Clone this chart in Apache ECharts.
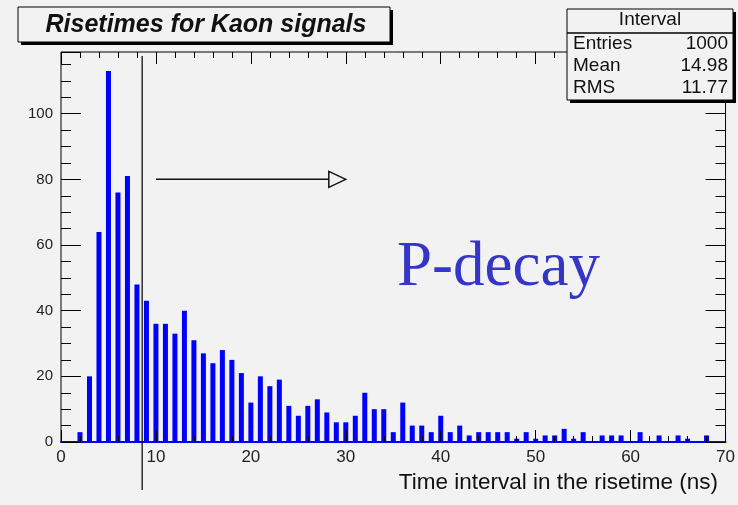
<!DOCTYPE html>
<html>
<head>
<meta charset="utf-8">
<script src="https://cdn.jsdelivr.net/npm/echarts@6/dist/echarts.min.js"></script>
<style>
html, body { margin: 0; padding: 0; background: #f2f2f2; }
#main { width: 738px; height: 505px; }
</style>
</head>
<body>
<div id="main"></div>
<script>
// histogram bins (centre of each 1 ns bin) and counts
var bins = [0, 1, 2, 3, 4, 5, 6, 7, 8, 9, 10, 11, 12, 13, 14, 15, 16, 17, 18, 19,
	20, 21, 22, 23, 24, 25, 26, 27, 28, 29, 30, 31, 32, 33, 34, 35, 36, 37, 38, 39,
	40, 41, 42, 43, 44, 45, 46, 47, 48, 49, 50, 51, 52, 53, 54, 55, 56, 57, 58, 59,
	60, 61, 62, 63, 64, 65, 66, 67, 68, 69];
var counts = [0, 0, 3, 20, 64, 113, 76, 81, 48, 43, 36, 36, 33, 40, 31, 27, 24, 28, 25, 21,
	12, 20, 17, 19, 11, 8, 11, 13, 9, 6, 6, 8, 15, 10, 10, 3, 12, 5, 5, 3,
	8, 3, 5, 2, 3, 3, 3, 3, 1, 3, 1, 2, 2, 4, 1, 3, 0, 2, 2, 2,
	0, 3, 0, 2, 0, 2, 1, 0, 2, 0];

var xRange = [0, 70];
var yRange = [0, 118.8];

// annotations
var cutX = 8.55;
var cutYTop = 117.6;
var arrowFrom = 10, arrowTo = 30, arrowY = 80;

var titleText = 'Risetimes for Kaon signals';
var xTitle = 'Time interval in the risetime (ns)';
var statsTitle = 'Interval';
var statsNames = ['Entries', 'Mean', 'RMS'];
var statsValues = ['1000', '14.98', '11.77'];

var FONT = '"Liberation Sans", Arial, sans-serif';
var BG = '#f2f2f2';

var chart = echarts.init(document.getElementById('main'));

function xAx(pos, interval, len, labels) {
	return {
		type: 'value', position: pos, min: xRange[0], max: xRange[1], interval: interval, z: 3,
		axisLine: { show: labels, onZero: false, lineStyle: { color: '#0000ff', width: 2 } },
		axisTick: { show: true, inside: true, length: len, lineStyle: { color: '#000', width: 1 } },
		axisLabel: { show: labels, fontSize: 17, color: '#222', margin: 7, fontFamily: FONT },
		splitLine: { show: false }
	};
}

function yAx(pos, interval, len, labels) {
	return {
		type: 'value', position: pos, min: yRange[0], max: yRange[1], interval: interval, z: 3,
		axisLine: { show: false, onZero: false },
		axisTick: { show: true, inside: true, length: len, lineStyle: { color: '#000', width: 1 } },
		axisLabel: {
			show: labels, fontSize: 15, color: '#222', margin: 8, fontFamily: FONT,
			formatter: function(v) { return v % 20 === 0 ? String(v) : ''; }
		},
		splitLine: { show: false }
	};
}

var data = bins.map(function(b, i) { return [b, counts[i]]; });

// stats box (drawn above the frame and its ticks)
var sb = { x: 567, y: 9, w: 166, h: 91 };
var statsEls = [
	{ type: 'rect', z: 20, shape: { x: sb.x + 3, y: sb.y + 3, width: sb.w, height: sb.h }, style: { fill: '#000' } },
	{ type: 'rect', z: 21, shape: { x: sb.x, y: sb.y, width: sb.w, height: sb.h }, style: { fill: BG, stroke: '#000', lineWidth: 1 } },
	{ type: 'line', z: 22, shape: { x1: sb.x, y1: 33, x2: sb.x + sb.w, y2: 33 }, style: { stroke: '#000', lineWidth: 1.5 } },
	{ type: 'text', z: 22, x: sb.x + sb.w / 2, y: 20, style: { text: statsTitle, font: '19px ' + FONT, fill: '#111', align: 'center', verticalAlign: 'middle' } }
];
var rowY = [44, 66, 88];
statsNames.forEach(function(n, i) {
	statsEls.push({ type: 'text', z: 22, x: 573, y: rowY[i], style: { text: n, font: '19px ' + FONT, fill: '#111', verticalAlign: 'middle' } });
	statsEls.push({ type: 'text', z: 22, x: 728, y: rowY[i], style: { text: statsValues[i], font: '19px ' + FONT, fill: '#111', align: 'right', verticalAlign: 'middle' } });
});

var option = {
	backgroundColor: BG,
	animation: false,
	grid: { left: 61, right: 6, top: 52, bottom: 63, show: true, borderColor: '#000', borderWidth: 1, backgroundColor: 'transparent' },
	xAxis: [xAx('bottom', 10, 12, true), xAx('bottom', 2, 6, false), xAx('top', 10, 12, false), xAx('top', 2, 6, false)],
	yAxis: [yAx('left', 20, 20, true), yAx('left', 5, 10, false), yAx('right', 20, 20, false), yAx('right', 5, 10, false)],
	series: [{
		type: 'bar',
		data: data,
		barWidth: 5,
		itemStyle: { color: '#0000ff' },
		z: 2
	}],
	graphic: [
		{ type: 'rect', shape: { x: 21, y: 10, width: 372, height: 35 }, style: { fill: '#000' }, z: 10 },
		{ type: 'rect', shape: { x: 18, y: 7, width: 372, height: 35 }, style: { fill: BG, stroke: '#000', lineWidth: 1 }, z: 11 },
		{ type: 'text', x: 206, y: 25, z: 12, style: { text: titleText, font: 'italic bold 25px ' + FONT, fill: '#111', align: 'center', verticalAlign: 'middle' } },
		{ type: 'group', z: 20, children: statsEls },
		{ type: 'text', x: 397, y: 237, z: 10, style: { text: 'P-decay', font: '63px "Liberation Serif", "Times New Roman", serif', fill: '#3535c8' } },
		{ type: 'text', x: 718, y: 483, z: 10, style: { text: xTitle, font: '22.5px ' + FONT, fill: '#111', align: 'right', verticalAlign: 'middle' } }
	]
};
chart.setOption(option);

// cut line and arrow, placed through the axis scales
var pTop = chart.convertToPixel({ xAxisIndex: 0, yAxisIndex: 0 }, [cutX, cutYTop]);
var pA = chart.convertToPixel({ xAxisIndex: 0, yAxisIndex: 0 }, [arrowFrom, arrowY]);
var pB = chart.convertToPixel({ xAxisIndex: 0, yAxisIndex: 0 }, [arrowTo, arrowY]);
var g = option.graphic.slice();
g.push({ type: 'line', z: 9, shape: { x1: pTop[0], y1: pTop[1], x2: pTop[0], y2: 490 }, style: { stroke: '#111', lineWidth: 1.3 } });
g.push({ type: 'line', z: 9, shape: { x1: pA[0], y1: pA[1], x2: pB[0] - 16, y2: pB[1] }, style: { stroke: '#111', lineWidth: 1.5 } });
g.push({ type: 'polygon', z: 9, shape: { points: [[pB[0], pB[1]], [pB[0] - 17, pB[1] - 8], [pB[0] - 17, pB[1] + 8]] }, style: { fill: BG, stroke: '#111', lineWidth: 1.5 } });
chart.setOption({ graphic: g }, { replaceMerge: ['graphic'] });
</script>
</body>
</html>
